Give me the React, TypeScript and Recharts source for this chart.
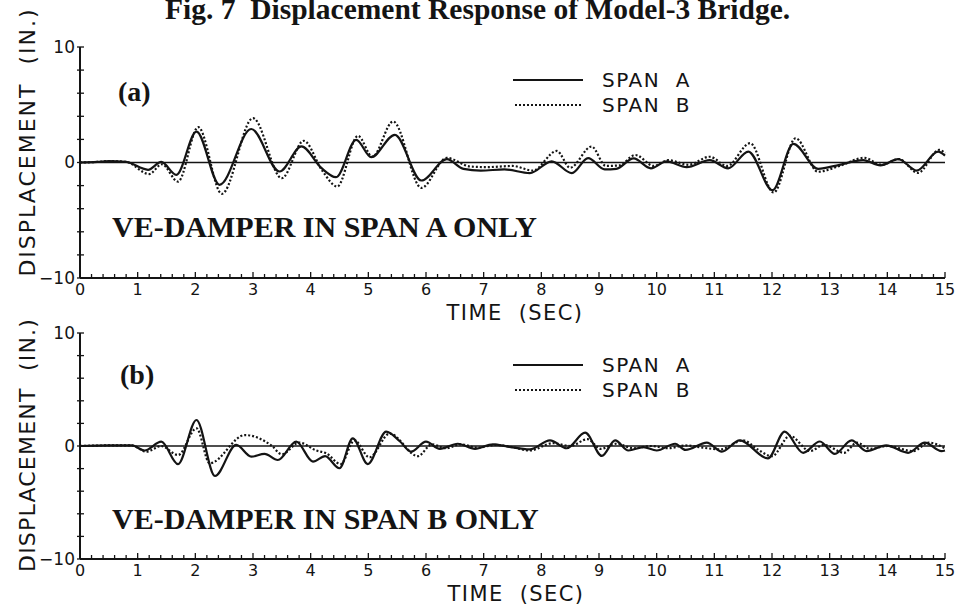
import { LineChart, Line, XAxis, YAxis, ReferenceLine } from 'recharts';

// axis ticks
const xMajorTicks = [0, 1, 2, 3, 4, 5, 6, 7, 8, 9, 10, 11, 12, 13, 14, 15];
const yTicks = [-10, -8, -6, -4, -2, 0, 2, 4, 6, 8, 10];
const yLabeled = [-10, 0, 10];

// (a) VE-damper in span A only
const timeA1 = [0, 0.3, 0.5, 0.8, 1.18, 1.41, 1.67, 2.02, 2.42, 2.97, 3.46, 3.84, 4.18, 4.44, 4.79, 5.05, 5.46, 5.92, 6.36, 6.65, 6.95, 7.36, 7.8, 8.18, 8.53, 8.81, 9.1, 9.3, 9.6, 9.9, 10.17, 10.52, 10.92, 11.24, 11.59, 12.01, 12.37, 12.8, 13.17, 13.58, 13.88, 14.19, 14.51, 14.88, 15];
const spanA1 = [0, 0.05, 0.12, 0.05, -0.63, 0.05, -1.07, 2.68, -1.93, 2.9, -0.78, 1.39, -0.45, -1.27, 1.96, 0.46, 2.4, -1.56, 0.29, -0.55, -0.7, -0.6, -0.92, 0.1, -0.92, 0.38, -0.6, -0.55, 0.35, -0.5, 0.1, -0.4, 0.2, -0.5, 0.95, -2.4, 1.62, -0.55, -0.2, 0.2, -0.25, 0.3, -0.7, 0.95, 0.6];
const timeB1 = [0, 0.3, 0.5, 0.8, 1.2, 1.42, 1.7, 2.05, 2.46, 3.0, 3.5, 3.88, 4.2, 4.46, 4.82, 5.07, 5.43, 5.92, 6.36, 6.77, 7.06, 7.5, 7.85, 8.27, 8.5, 8.87, 9.12, 9.35, 9.63, 9.95, 10.2, 10.55, 10.92, 11.22, 11.62, 12.03, 12.41, 12.8, 13.17, 13.6, 13.9, 14.2, 14.53, 14.9, 15];
const spanB1 = [0, 0.05, 0.12, 0.05, -1.0, -0.15, -1.65, 3.06, -2.71, 3.84, -1.36, 1.88, -0.7, -2.08, 2.31, 0.5, 3.55, -2.2, 0.4, -0.35, -0.4, -0.3, -0.7, 1.0, -0.45, 1.38, -0.3, -0.25, 0.65, -0.3, 0.2, -0.2, 0.5, -0.3, 1.67, -2.6, 2.1, -0.8, -0.3, 0.4, -0.2, 0.3, -0.9, 1.1, 0.8];

// (b) VE-damper in span B only
const timeA2 = [0, 0.5, 0.9, 1.12, 1.41, 1.7, 2.02, 2.34, 2.71, 2.97, 3.2, 3.43, 3.75, 4.04, 4.25, 4.5, 4.73, 4.99, 5.31, 5.55, 5.74, 6.0, 6.24, 6.55, 6.85, 7.16, 7.42, 7.8, 8.15, 8.44, 8.76, 9.05, 9.28, 9.51, 9.77, 10.0, 10.32, 10.5, 10.87, 11.13, 11.44, 11.93, 12.22, 12.54, 12.83, 13.09, 13.38, 13.64, 13.98, 14.36, 14.65, 14.94, 15];
const spanA2 = [0, 0.05, 0.05, -0.4, 0.38, -1.6, 2.3, -2.65, 0.1, -0.94, -0.7, -1.24, 0.38, -1.38, -0.9, -1.97, 0.68, -1.6, 1.27, 0.4, -0.5, 0.38, -0.25, 0.2, -0.25, 0.15, -0.05, -0.3, 0.5, -0.2, 1.18, -0.88, 0.5, -0.4, -0.1, -0.4, 0.2, -0.35, 0.3, -0.5, 0.5, -1.1, 1.27, -0.6, 0.4, -0.7, 0.5, -0.45, 0.05, -0.6, 0.3, -0.45, -0.4];
const timeB2 = [0, 0.5, 0.9, 1.15, 1.41, 1.7, 2.02, 2.25, 2.86, 3.33, 3.5, 3.8, 4.1, 4.27, 4.52, 4.76, 5.02, 5.37, 5.86, 6.1, 6.35, 6.6, 6.9, 7.2, 7.5, 7.8, 8.2, 8.5, 8.8, 9.03, 9.3, 9.6, 9.9, 10.2, 10.5, 10.8, 11.1, 11.5, 11.75, 12.0, 12.31, 12.66, 12.9, 13.25, 13.47, 13.7, 14.0, 14.45, 14.72, 15];
const spanB2 = [0, 0.05, 0.05, -0.5, 0.0, -0.8, 1.56, -1.53, 0.97, 0, -0.74, 0.3, -0.4, -0.65, -1.6, 0.5, -1.0, 1.1, -0.9, 0.15, -0.2, 0.15, -0.15, 0.1, -0.1, -0.4, 0.25, 0.0, 0.6, -0.25, 0.2, -0.2, 0.0, -0.2, 0.05, -0.15, -0.3, 0.5, -0.3, -0.9, 0.9, -0.45, 0.1, -0.6, 0.3, -0.25, 0.0, -0.45, 0.3, -0.2];

const zip = (ts: number[], vs: number[]) => ts.map((t, i) => ({ t, v: vs[i] }));

// 0.2 s minor ticks between the labelled seconds
const xTicks = xMajorTicks.flatMap((t) =>
  t < 15 ? [0, 1, 2, 3, 4].map((k) => Math.round((t + k * 0.2) * 10) / 10) : [t]
);

const INK = '#141414';
const SANS = '"DejaVu Sans", sans-serif';
const SERIF = '"Liberation Serif", "Times New Roman", serif';
const SP2 = '\u00a0\u00a0';

function XTick(props: any) {
  const { x, y, payload } = props;
  const v = payload.value;
  const major = Math.abs(v - Math.round(v)) < 1e-6;
  return (
    <g>
      <line x1={x} x2={x} y1={y} y2={y - (major ? 6 : 4)} stroke={INK} strokeWidth={1.3} />
      {major && (
        <text x={x} y={y + 17} textAnchor="middle" fontSize={16} fontFamily={SANS} fill={INK}>
          {v}
        </text>
      )}
    </g>
  );
}

function YTick(props: any) {
  const { x, y, payload } = props;
  const v = payload.value;
  return (
    <g>
      <line x1={x - 3} x2={x + 4} y1={y} y2={y} stroke={INK} strokeWidth={1.3} />
      {yLabeled.includes(v) && (
        <text x={x - 5} y={y} dy="0.35em" textAnchor="end" fontSize={17} fontFamily={SANS} fill={INK}>
          {v < 0 ? `\u2212${Math.abs(v)}` : v}
        </text>
      )}
    </g>
  );
}

interface PanelProps {
  spanA: { t: number; v: number }[];
  spanB: { t: number; v: number }[];
  top: number;
  height: number;
  marginTop: number;
}

function Panel({ spanA, spanB, top, height, marginTop }: PanelProps) {
  const frame = { stroke: INK, strokeWidth: 2 };
  return (
    <div style={{ position: 'absolute', left: 0, top, width: 958, height }}>
      <LineChart width={958} height={height} margin={{ top: marginTop, right: 13, bottom: 30, left: 40 }}>
        <XAxis
          type="number"
          dataKey="t"
          domain={[0, 15]}
          ticks={xTicks}
          interval={0}
          tickSize={0}
          tickMargin={0}
          tickLine={false}
          tick={<XTick />}
          height={22}
          axisLine={frame}
        />
        <XAxis xAxisId="top" orientation="top" type="number" domain={[0, 15]} tick={false} tickLine={false} height={0} axisLine={frame} />
        <YAxis
          type="number"
          domain={[-10, 10]}
          ticks={yTicks}
          interval={0}
          width={40}
          tickSize={0}
          tickMargin={0}
          tickLine={false}
          tick={<YTick />}
          axisLine={frame}
        />
        <YAxis yAxisId="right" orientation="right" type="number" domain={[-10, 10]} width={0} tick={false} tickLine={false} axisLine={frame} />
        <ReferenceLine y={0} stroke={INK} strokeWidth={1.6} />
        <Line data={spanA} dataKey="v" name="SPAN A" type="monotone" stroke={INK} strokeWidth={2.2} dot={false} isAnimationActive={false} />
        <Line data={spanB} dataKey="v" name="SPAN B" type="monotone" stroke={INK} strokeWidth={2.2} strokeDasharray="2 2" dot={false} isAnimationActive={false} />
      </LineChart>
    </div>
  );
}

function LegendRows({ y }: { y: number }) {
  return (
    <g>
      <line x1={513} x2={583} y1={y} y2={y} stroke={INK} strokeWidth={2} />
      <text x={602} y={y} dy="0.35em" fontSize={20} fontFamily={SANS} letterSpacing={1.5} fill={INK}>{`SPAN${SP2}A`}</text>
      <line x1={515} x2={583} y1={y + 25} y2={y + 25} stroke={INK} strokeWidth={2} strokeDasharray="2 2" />
      <text x={602} y={y + 25} dy="0.35em" fontSize={20} fontFamily={SANS} letterSpacing={1.5} fill={INK}>{`SPAN${SP2}B`}</text>
    </g>
  );
}

export default function App() {
  return (
    <div style={{ position: 'absolute', left: 0, top: 0, width: 958, height: 611, background: '#fff', overflow: 'hidden' }}>
      <Panel spanA={zip(timeA1, spanA1)} spanB={zip(timeB1, spanB1)} top={0} height={330} marginTop={47} />
      <Panel spanA={zip(timeA2, spanA2)} spanB={zip(timeB2, spanB2)} top={300} height={311} marginTop={33} />
      <svg width={958} height={611} style={{ position: 'absolute', left: 0, top: 0, pointerEvents: 'none' }}>
        <text x={165} y={19} fontSize={29.5} fontWeight="bold" fontFamily={SERIF} fill={INK}>
          {`Fig. 7${SP2}Displacement Response of Model-3 Bridge.`}
        </text>
        <text transform="translate(35,142) rotate(-90)" textAnchor="middle" fontSize={22} letterSpacing={2} fontFamily={SANS} fill={INK}>
          {`DISPLACEMENT${SP2}(IN.)`}
        </text>
        <text transform="translate(35,445) rotate(-90)" textAnchor="middle" fontSize={22} letterSpacing={1.2} fontFamily={SANS} fill={INK}>
          {`DISPLACEMENT${SP2}(IN.)`}
        </text>
        <text x={515} y={320} textAnchor="middle" fontSize={21} letterSpacing={1.4} fontFamily={SANS} fill={INK}>{`TIME${SP2}(SEC)`}</text>
        <text x={516} y={601} textAnchor="middle" fontSize={21} letterSpacing={1.4} fontFamily={SANS} fill={INK}>{`TIME${SP2}(SEC)`}</text>
        <text x={118} y={101} fontSize={28} fontWeight="bold" fontFamily={SERIF} fill={INK}>(a)</text>
        <text x={120} y={384} fontSize={28} fontWeight="bold" fontFamily={SERIF} fill={INK}>(b)</text>
        <text x={112} y={237} fontSize={30} fontWeight="bold" fontFamily={SERIF} fill={INK}>VE-DAMPER IN SPAN A ONLY</text>
        <text x={112} y={529} fontSize={30} fontWeight="bold" fontFamily={SERIF} fill={INK}>VE-DAMPER IN SPAN B ONLY</text>
        <LegendRows y={80} />
        <LegendRows y={365} />
      </svg>
    </div>
  );
}
